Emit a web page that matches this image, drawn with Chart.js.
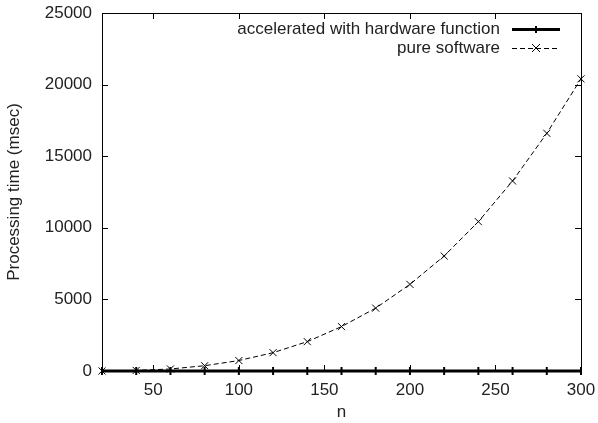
<!DOCTYPE html>
<html>
<head>
<meta charset="utf-8">
<script src="https://cdn.jsdelivr.net/npm/chart.js@4/dist/chart.umd.min.js"></script>
<style>
  html, body { margin: 0; padding: 0; background: #fff; }
  #wrap { width: 598px; height: 423px; }
</style>
</head>
<body>
<div id="wrap"><canvas id="chart"></canvas></div>
<script>
// Data
const nValues = [20, 40, 60, 80, 100, 120, 140, 160, 180, 200, 220, 240, 260, 280, 300];
const hardwareMs = [0, 0, 0, 0, 0, 0, 0, 0, 0, 0, 0, 0, 0, 0, 0];
const softwareMs = [5, 40, 140, 370, 730, 1280, 2050, 3100, 4390, 6050, 8030, 10430, 13270, 16600, 20400];
const xTicks = [50, 100, 150, 200, 250, 300];
const yTicks = [0, 5000, 10000, 15000, 20000, 25000];
const seriesLabels = ["accelerated with hardware function", "pure software"];

const FONT = "'Liberation Sans', Arial, Helvetica, sans-serif";

function toXY(ys) {
    return nValues.map((n, i) => ({ x: n, y: ys[i] }));
}

// gnuplot style frame: box + inward ticks on all four sides
const framePlugin = {
    id: "frame",
    afterDatasetsDraw(chart) {
        const { ctx, chartArea: a, scales } = chart;
        ctx.save();
        ctx.strokeStyle = "#000";
        ctx.lineWidth = 1;
        ctx.strokeRect(a.left + 0.5, a.top + 0.5, a.right - a.left, a.bottom - a.top);
        const len = 6;
        ctx.beginPath();
        xTicks.forEach(v => {
            const px = Math.round(scales.x.getPixelForValue(v)) + 0.5;
            ctx.moveTo(px, a.bottom); ctx.lineTo(px, a.bottom - len);
            ctx.moveTo(px, a.top); ctx.lineTo(px, a.top + len);
        });
        yTicks.forEach(v => {
            const py = Math.round(scales.y.getPixelForValue(v)) + 0.5;
            ctx.moveTo(a.left, py); ctx.lineTo(a.left + len, py);
            ctx.moveTo(a.right, py); ctx.lineTo(a.right - len, py);
        });
        ctx.stroke();
        ctx.restore();
    }
};

// key in the top right corner: text right-aligned, sample to the right
const keyPlugin = {
    id: "key",
    afterDraw(chart) {
        const { ctx, chartArea: a } = chart;
        const textRight = a.right - 81;
        const sx0 = a.right - 69, sx1 = a.right - 21;
        ctx.save();
        ctx.font = "17px " + FONT;
        ctx.fillStyle = "#222";
        ctx.textAlign = "right";
        ctx.textBaseline = "middle";
        chart.data.datasets.forEach((ds, i) => {
            const y = a.top + 16 + i * 19;
            ctx.fillText(ds.label, textRight, y);
            ctx.strokeStyle = "#000";
            ctx.lineWidth = ds.borderWidth;
            ctx.setLineDash(ds.borderDash || []);
            ctx.beginPath();
            ctx.moveTo(sx0, y + 0.5); ctx.lineTo(sx1, y + 0.5);
            ctx.stroke();
            ctx.setLineDash([]);
            const cx = (sx0 + sx1) / 2;
            ctx.lineWidth = ds.pointBorderWidth;
            ctx.beginPath();
            if (ds.pointStyle === "crossRot") {
                const r = 4;
                ctx.moveTo(cx - r, y - r); ctx.lineTo(cx + r, y + r);
                ctx.moveTo(cx - r, y + r); ctx.lineTo(cx + r, y - r);
            } else {
                ctx.moveTo(cx, y - 3); ctx.lineTo(cx, y + 4);
            }
            ctx.stroke();
        });
        ctx.restore();
    }
};

new Chart(document.getElementById("chart"), {
    type: "scatter",
    data: {
        datasets: [
            {
                label: seriesLabels[0],
                data: toXY(hardwareMs),
                showLine: true,
                borderColor: "#000",
                backgroundColor: "#000",
                borderWidth: 3,
                pointStyle: "line",
                rotation: 90,
                pointRadius: 4,
                pointBorderWidth: 2,
                pointBorderColor: "#000",
                clip: false,
                order: 1
            },
            {
                label: seriesLabels[1],
                data: toXY(softwareMs),
                showLine: true,
                borderColor: "#000",
                backgroundColor: "#000",
                borderWidth: 1,
                borderDash: [5, 3],
                pointStyle: "crossRot",
                pointRadius: 5,
                pointBorderWidth: 1,
                pointBorderColor: "#000",
                clip: false,
                order: 2
            }
        ]
    },
    options: {
        responsive: true,
        maintainAspectRatio: false,
        animation: false,
        layout: { padding: { top: 13, right: 17, left: 0, bottom: 0 } },
        plugins: {
            legend: { display: false },
            tooltip: { enabled: false }
        },
        scales: {
            x: {
                type: "linear",
                min: 20,
                max: 300,
                afterBuildTicks: s => { s.ticks = xTicks.map(v => ({ value: v })); },
                afterFit: s => { s.height = 52; s.paddingRight = 0; s.paddingLeft = 0; },
                grid: { display: false, drawTicks: false },
                border: { display: false },
                ticks: { color: "#222", font: { family: FONT, size: 17 }, padding: 9, maxRotation: 0, callback: v => String(v) },
                title: { display: true, text: "n", color: "#222", font: { family: FONT, size: 17 }, padding: { top: 0, bottom: 0 } }
            },
            y: {
                type: "linear",
                min: 0,
                max: 25000,
                afterBuildTicks: s => { s.ticks = yTicks.map(v => ({ value: v })); },
                afterFit: s => { s.width = 102; s.paddingTop = 0; s.paddingBottom = 0; },
                grid: { display: false, drawTicks: false },
                border: { display: false },
                ticks: { color: "#222", font: { family: FONT, size: 17 }, padding: 10, callback: v => String(v) },
                title: { display: true, text: "Processing time (msec)", color: "#222", font: { family: FONT, size: 17 }, padding: { top: 4, bottom: 0 } }
            }
        }
    },
    plugins: [framePlugin, keyPlugin]
});
</script>
</body>
</html>
